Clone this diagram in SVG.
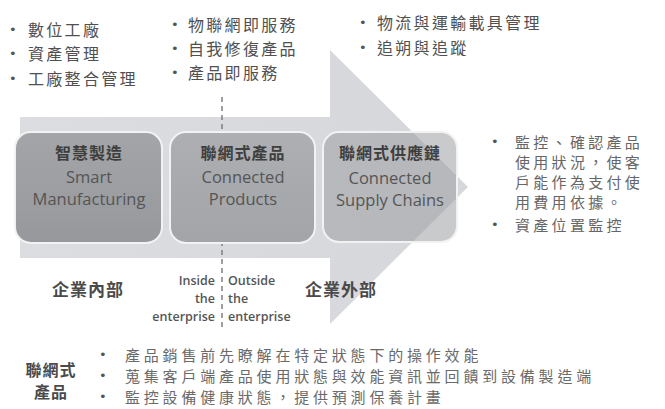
<svg xmlns="http://www.w3.org/2000/svg" width="665" height="409" viewBox="0 0 665 409">
<style>
.cjk{font-family:"Noto Sans CJK TC","Noto Sans CJK SC",sans-serif;font-size:16px;fill:#505050;letter-spacing:2.3px}
.cjkr{font-family:"Noto Sans CJK TC","Noto Sans CJK SC",sans-serif;font-size:15px;fill:#666;letter-spacing:3.3px}
.cjkb{font-family:"Noto Sans CJK TC","Noto Sans CJK SC",sans-serif;font-size:15px;fill:#6a6a6a;letter-spacing:3.8px}
.bul{font-family:"DejaVu Sans",sans-serif;font-size:13px;fill:#555}
.head{font-family:"Noto Sans CJK TC","Noto Sans CJK SC",sans-serif;font-size:16px;font-weight:bold;fill:#3e3e3e;text-anchor:middle;letter-spacing:1px}
.en{font-family:"Open Sans",sans-serif;font-size:16.5px;fill:#555;text-anchor:middle}
.lab{font-family:"Noto Sans CJK TC","Noto Sans CJK SC",sans-serif;font-size:17px;font-weight:bold;fill:#4a4a4a;letter-spacing:1px}
.lab2{font-family:"Noto Sans CJK TC","Noto Sans CJK SC",sans-serif;font-size:16px;font-weight:bold;fill:#4a4a4a;text-anchor:middle;letter-spacing:1px}
.io{font-family:"Open Sans",sans-serif;font-size:12.5px;font-weight:600;fill:#555}
.box{stroke:#f2f2f2;stroke-width:2}
</style>
<defs>
<linearGradient id="g1" x1="0" y1="0" x2="0" y2="1"><stop offset="0" stop-color="#a3a5a8"/><stop offset="1" stop-color="#96989b"/></linearGradient>
<linearGradient id="g2" x1="0" y1="0" x2="0" y2="1"><stop offset="0" stop-color="#adafb2"/><stop offset="1" stop-color="#a2a4a7"/></linearGradient>
<linearGradient id="ga" x1="0" y1="0" x2="1" y2="0"><stop offset="0" stop-color="#dcdde0"/><stop offset="1" stop-color="#d6d7da"/></linearGradient>
</defs>

<g id="arrow">
<path d="M20,117 H330 V50 L468,187 L330,324 V258 H20 Z" fill="url(#ga)"/>
</g>

<g id="connectors">
<line x1="222" y1="97" x2="222" y2="327" stroke="#777" stroke-width="1.4" stroke-dasharray="5,4"/>
</g>

<g id="node-smart">
<rect class="box" x="15" y="132" width="147" height="111" rx="16" fill="url(#g1)"/>
<text class="head" x="89" y="159">智慧製造</text>
<text class="en" x="89" y="183">Smart</text>
<text class="en" x="89" y="205">Manufacturing</text>
</g>

<g id="node-products">
<rect class="box" x="170" y="132" width="145" height="111" rx="16" fill="url(#g2)"/>
<text class="head" x="243" y="159">聯網式產品</text>
<text class="en" x="243" y="183">Connected</text>
<text class="en" x="243" y="205">Products</text>
</g>

<g id="node-supply">
<rect class="box" x="323" y="132" width="134" height="110" rx="16" fill="#9d9fa2" fill-opacity="0.55"/>
<text class="head" x="390" y="159">聯網式供應鏈</text>
<text class="en" x="390" y="184">Connected</text>
<text class="en" x="390" y="206">Supply Chains</text>
</g>

<g id="top-left">
<text class="bul" x="9" y="34">•</text><text class="cjk" x="28" y="36">數位工廠</text>
<text class="bul" x="9" y="58">•</text><text class="cjk" x="28" y="60">資產管理</text>
<text class="bul" x="9" y="83">•</text><text class="cjk" x="28" y="85">工廠整合管理</text>
</g>

<g id="top-middle">
<text class="bul" x="171" y="29">•</text><text class="cjk" x="188" y="31">物聯網即服務</text>
<text class="bul" x="171" y="53">•</text><text class="cjk" x="188" y="55">自我修復產品</text>
<text class="bul" x="171" y="77">•</text><text class="cjk" x="188" y="79">產品即服務</text>
</g>

<g id="top-right">
<text class="bul" x="359" y="27">•</text><text class="cjk" x="377" y="29">物流與運輸載具管理</text>
<text class="bul" x="359" y="52">•</text><text class="cjk" x="377" y="54">追朔與追蹤</text>
</g>

<g id="right-notes">
<text class="bul" x="491" y="146">•</text>
<text class="cjkr" x="515" y="148">監控、確認產品</text>
<text class="cjkr" x="515" y="168">使用狀況，使客</text>
<text class="cjkr" x="515" y="188">戶能作為支付使</text>
<text class="cjkr" x="515" y="208">用費用依據。</text>
<text class="bul" x="491" y="229">•</text>
<text class="cjkr" x="515" y="231">資產位置監控</text>
</g>

<g id="boundary-labels">
<text class="lab" x="52" y="296">企業內部</text>
<text class="lab" x="305" y="296">企業外部</text>
<text class="io" x="215" y="285" text-anchor="end">Inside</text>
<text class="io" x="215" y="303" text-anchor="end">the</text>
<text class="io" x="215" y="321" text-anchor="end">enterprise</text>
<text class="io" x="228" y="285">Outside</text>
<text class="io" x="228" y="303">the</text>
<text class="io" x="228" y="321">enterprise</text>
</g>

<g id="bottom">
<text class="lab2" x="51" y="376">聯網式</text>
<text class="lab2" x="51" y="398">產品</text>
<text class="bul" x="99" y="359">•</text><text class="cjkb" x="125" y="361">產品銷售前先瞭解在特定狀態下的操作效能</text>
<text class="bul" x="99" y="380">•</text><text class="cjkb" x="125" y="382">蒐集客戶端產品使用狀態與效能資訊並回饋到設備製造端</text>
<text class="bul" x="99" y="401">•</text><text class="cjkb" x="125" y="403">監控設備健康狀態，提供預測保養計畫</text>
</g>
</svg>
